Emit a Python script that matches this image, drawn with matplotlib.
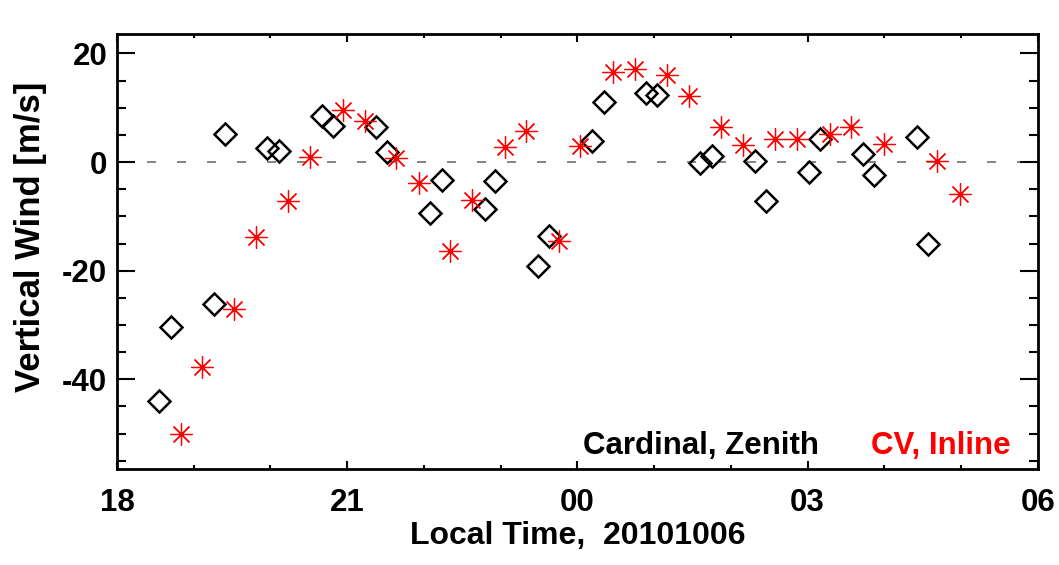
import numpy as np
import matplotlib
matplotlib.use('Agg')
import matplotlib.pyplot as plt
from matplotlib.ticker import MultipleLocator, FixedLocator

plt.rcParams['font.family'] = ['Liberation Sans', 'DejaVu Sans']
plt.rcParams['font.weight'] = 'bold'
plt.rcParams['lines.scale_dashes'] = False
plt.rcParams['axes.unicode_minus'] = False

# Cardinal, Zenith (black diamonds)
cardinal_time = [18.55, 18.70, 19.26, 19.41, 19.96, 20.11, 20.67, 20.82, 21.38, 21.52,
                 22.08, 22.23, 22.79, 22.93, 23.49, 23.63, 24.19, 24.34, 24.90, 25.04,
                 25.60, 25.75, 26.31, 26.46, 27.02, 27.16, 27.72, 27.86, 28.42, 28.57]
cardinal_wind = [-43.9, -30.4, -26.1, 5.2, 2.6, 2.1, 8.5, 6.6, 6.5, 1.9,
                 -9.4, -3.3, -8.7, -3.5, -19.2, -13.6, 3.9, 11.0, 12.8, 12.3,
                 -0.2, 1.1, 0.2, -7.1, -1.8, 4.2, 1.5, -2.3, 4.7, -15.0]

# CV, Inline (red asterisks)
cv_time = [18.83, 19.11, 19.53, 19.81, 20.23, 20.52, 20.94, 21.23, 21.64, 21.93,
           22.34, 22.63, 23.05, 23.33, 23.76, 24.04, 24.46, 24.75, 25.17, 25.46,
           25.87, 26.16, 26.58, 26.86, 27.29, 27.57, 27.99, 28.69, 28.98]
cv_wind = [-50.1, -37.8, -27.1, -13.8, -7.1, 0.9, 9.6, 7.6, 0.7, -3.8,
           -16.3, -6.9, 2.8, 5.7, -14.5, 2.9, 16.6, 17.1, 16.0, 12.2,
           6.5, 3.1, 4.2, 4.2, 5.1, 6.4, 3.3, 0.2, -5.9]

xticks = [18, 21, 24, 27, 30]
xticklabels = ['18', '21', '00', '03', '06']
yticks = [-40, -20, 0, 20]

fig = plt.figure(figsize=(10.59, 5.65), dpi=100)
ax = fig.add_axes([0.1105, 0.170, 0.8695, 0.770])

# zero line
ax.axhline(0, color='#7a7a7a', lw=1.3, linestyle=(0, (6.5, 15.1)), zorder=1)

ax.plot(cardinal_time, cardinal_wind, linestyle='none', marker='D', ms=11,
        mfc='none', mec='black', mew=1.8, zorder=3)
ax.plot(cv_time, cv_wind, linestyle='none', marker=(8, 2, 0), ms=16,
        mec='red', mew=0.9, zorder=3)

ax.set_xlim(18, 30)
ax.set_ylim(-56.5, 23.6)
ax.xaxis.set_major_locator(FixedLocator(xticks))
ax.set_xticklabels(xticklabels)
ax.xaxis.set_minor_locator(MultipleLocator(1))
ax.yaxis.set_major_locator(FixedLocator(yticks))
ax.yaxis.set_minor_locator(MultipleLocator(5))

ax.tick_params(which='both', direction='in', top=True, right=True, width=1.5,
               labelsize=22.5)
ax.tick_params(axis='x', which='major', length=6, pad=14)
ax.tick_params(axis='x', which='minor', length=3)
ax.tick_params(axis='y', which='major', length=13, pad=7)
ax.tick_params(axis='y', which='minor', length=6.5)
for s in ax.spines.values():
    s.set_linewidth(2)

ax.set_xlabel('Local Time,  20101006', fontsize=23, fontweight='bold', labelpad=2)
ax.set_ylabel('Vertical Wind [m/s]', fontsize=25, fontweight='bold')
ax.yaxis.set_label_coords(-0.076, 0.533)

ax.text(0.9707, 0.034, 'CV, Inline', color='red', fontsize=22.5,
        fontweight='bold', ha='right', va='baseline', transform=ax.transAxes)
ax.text(0.762, 0.034, 'Cardinal, Zenith', color='black', fontsize=22.5,
        fontweight='bold', ha='right', va='baseline', transform=ax.transAxes)

fig.savefig('out.png', dpi=100)
